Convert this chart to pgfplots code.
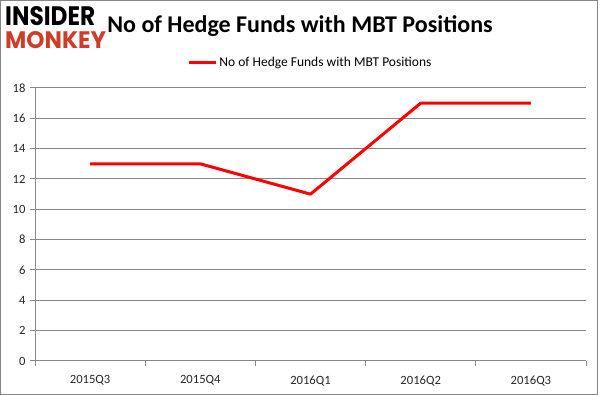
\documentclass[border=0pt]{standalone}
\usepackage{pgfplots}
\pgfplotsset{compat=1.18}
\usepackage{fontspec}
\setmainfont{Carlito}
\newfontfamily\logofont{Poppins}
\definecolor{gridgray}{RGB}{134,134,134}
\definecolor{monkeyred}{RGB}{204,62,42}
\begin{document}
\begin{tikzpicture}[x=1pt,y=1pt]
\useasboundingbox (0,0) rectangle (601,395);
\draw[gridgray,line width=1pt] (0.5,0.5) rectangle (597.5,394.5);
% logo
\node[anchor=south west,inner sep=0pt] at (5,369) {\resizebox{90pt}{19pt}{\logofont\bfseries INSIDER}};
\node[anchor=south west,inner sep=0pt] at (5,346) {\resizebox{101pt}{17pt}{\logofont\bfseries\color{monkeyred}MONKEY}};
% title
\node[anchor=center,inner sep=0pt] at (300,369) {\fontsize{24}{28}\selectfont\bfseries No of Hedge Funds with MBT Positions};
\begin{axis}[
  at={(35pt,34pt)}, anchor=south west,
  scale only axis, width=551pt, height=273pt,
  xmin=-0.5, xmax=4.5, ymin=0, ymax=18,
  axis x line*=bottom, axis y line*=left,
  axis line style={gridgray,line width=1pt,-},
  ytick={0,2,...,18},
  ymajorgrids, grid style={gridgray,line width=1pt},
  xtick={0,1,2,3,4},
  xticklabels={2015Q3,2015Q4,2016Q1,2016Q2,2016Q3},
  major x tick style={draw=none},
  minor xtick={-0.5,0.5,1.5,2.5,3.5,4.5},
  minor x tick style={gridgray,line width=1pt},
  minor tick length=5pt,
  major tick length=5pt,
  tick align=outside,
  y tick style={gridgray,line width=1pt},
  tick label style={font=\fontsize{12.6}{15}\selectfont, text=black!85},
  /pgf/number format/assume math mode=true,
  xticklabel style={yshift=-6pt},
  yticklabel style={xshift=-1pt},
  legend style={at={(0.5,1.0)}, anchor=south, yshift=18pt, draw=none, fill=none,
    font=\fontsize{13.5}{16}\selectfont, inner sep=0pt},
  legend image code/.code={\draw[#1,line width=3pt] (0pt,0pt) -- (27pt,0pt);},
  clip=false,
]
\addplot[red, line width=3pt, line join=round] coordinates {(0,13) (1,13) (2,11) (3,17) (4,17)};
\addlegendentry{No of Hedge Funds with MBT Positions}
\end{axis}
\end{tikzpicture}
\end{document}
